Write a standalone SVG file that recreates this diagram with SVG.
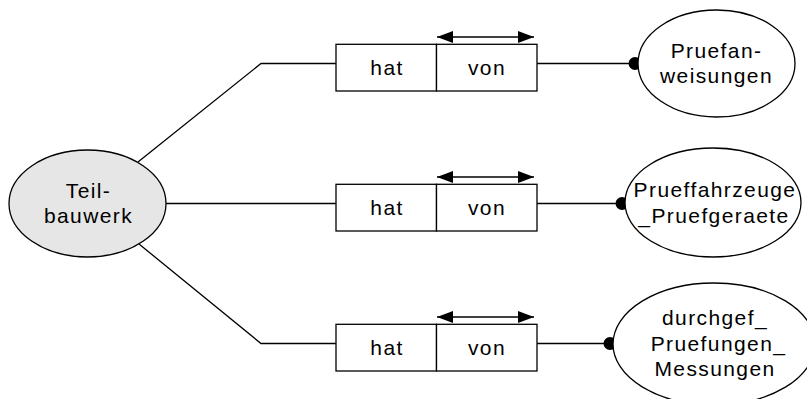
<svg xmlns="http://www.w3.org/2000/svg" width="807" height="399" viewBox="0 0 807 399">
<defs>
<style>
.ln{stroke:#000;stroke-width:1.3;fill:none}
.box{fill:#fff;stroke:#000;stroke-width:1.3}
.ell{fill:#fff;stroke:#000;stroke-width:1.3}
.t{font-family:"Liberation Sans",Arial,sans-serif;font-size:21px;letter-spacing:1.4px;fill:#000;text-anchor:middle}
</style>
<marker id="ah" viewBox="0 0 16 12" refX="16" refY="6" markerWidth="16" markerHeight="12" markerUnits="userSpaceOnUse" orient="auto-start-reverse">
<path d="M0,0 L16,6 L0,12 Z" fill="#000"/>
</marker>
</defs>
<rect width="807" height="399" fill="#fff"/>
<g id="connectors">
<polyline class="ln" points="138,162 261,63.5 336,63.5"/>
<line class="ln" x1="166" y1="203.5" x2="336" y2="203.5"/>
<polyline class="ln" points="139,244 261,343.5 336,343.5"/>
<line class="ln" x1="537" y1="63.5" x2="635" y2="63.5"/>
<line class="ln" x1="537" y1="203.5" x2="622" y2="203.5"/>
<line class="ln" x1="537" y1="343.5" x2="610" y2="343.5"/>
<line class="ln" x1="437" y1="37" x2="534" y2="37" marker-start="url(#ah)" marker-end="url(#ah)"/>
<line class="ln" x1="437" y1="177" x2="534" y2="177" marker-start="url(#ah)" marker-end="url(#ah)"/>
<line class="ln" x1="437" y1="317" x2="534" y2="317" marker-start="url(#ah)" marker-end="url(#ah)"/>
<circle cx="635" cy="63.5" r="6.5" fill="#000"/>
<circle cx="622" cy="203.5" r="6.5" fill="#000"/>
<circle cx="610" cy="343.5" r="6.5" fill="#000"/>
</g>
<g id="teilbauwerk">
<ellipse cx="87.5" cy="203.5" rx="78.5" ry="53.5" fill="#e6e6e6" stroke="#000" stroke-width="1.3"/>
<text class="t" x="88.5" y="198">Teil-</text>
<text class="t" x="88.5" y="223">bauwerk</text>
</g>
<g id="rel1">
<rect class="box" x="336" y="44.3" width="100.5" height="46.7"/>
<rect class="box" x="436.5" y="44.3" width="100.5" height="46.7"/>
<text class="t" x="387" y="74.5">hat</text>
<text class="t" x="487" y="74.5">von</text>
</g>
<g id="rel2">
<rect class="box" x="336" y="184.3" width="100.5" height="46.7"/>
<rect class="box" x="436.5" y="184.3" width="100.5" height="46.7"/>
<text class="t" x="387" y="214.5">hat</text>
<text class="t" x="487" y="214.5">von</text>
</g>
<g id="rel3">
<rect class="box" x="336" y="324.3" width="100.5" height="46.7"/>
<rect class="box" x="436.5" y="324.3" width="100.5" height="46.7"/>
<text class="t" x="387" y="354.5">hat</text>
<text class="t" x="487" y="354.5">von</text>
</g>
<g id="pruefanweisungen">
<ellipse class="ell" cx="716.5" cy="63.5" rx="78.5" ry="53.5"/>
<text class="t" x="716.5" y="58.3">Pruefan-</text>
<text class="t" x="716.5" y="83.3">weisungen</text>
</g>
<g id="prueffahrzeuge">
<ellipse class="ell" cx="713" cy="202.5" rx="88" ry="54.5"/>
<text class="t" x="715" y="196.5">Prueffahrzeuge</text>
<text class="t" x="714" y="222.5">_Pruefgeraete</text>
</g>
<g id="durchgef">
<ellipse class="ell" cx="714" cy="344" rx="101" ry="61"/>
<text class="t" x="715" y="325">durchgef_</text>
<text class="t" x="718.5" y="350.5">Pruefungen_</text>
<text class="t" x="715" y="376">Messungen</text>
</g>
</svg>
